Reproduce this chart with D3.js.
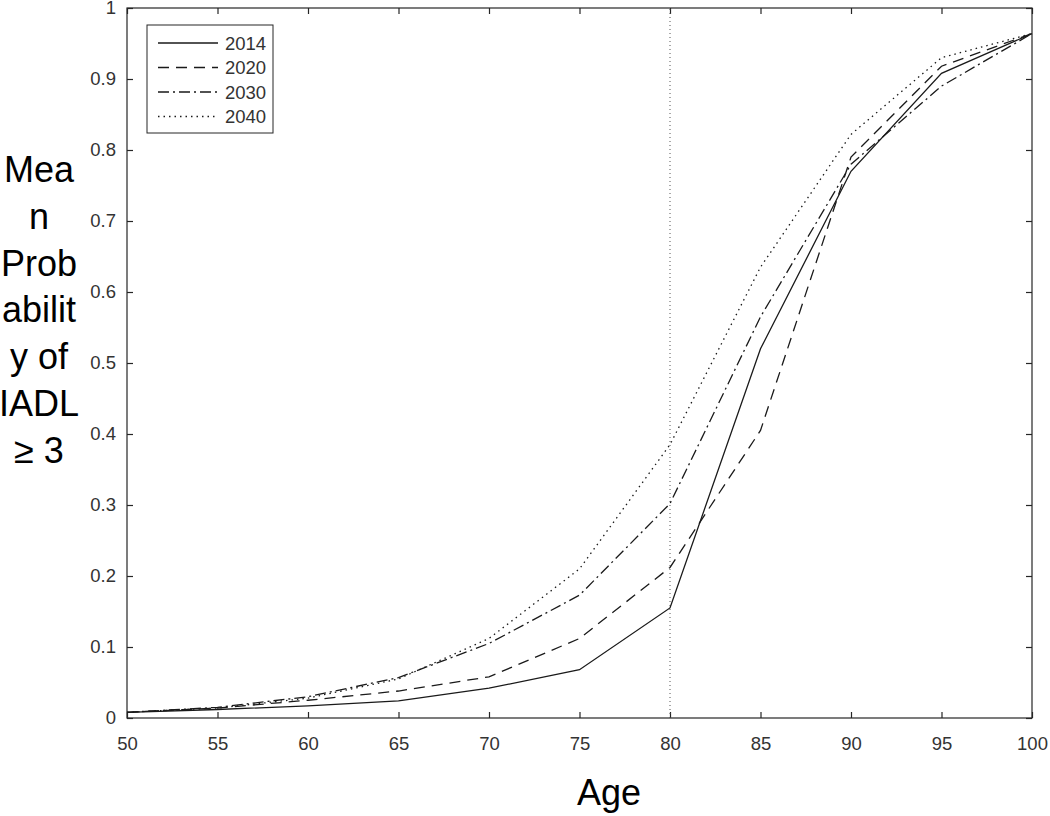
<!DOCTYPE html>
<html>
<head>
<meta charset="utf-8">
<script src="https://cdn.jsdelivr.net/npm/d3@7"></script>
<style>
  body { margin: 0; background: #fff; }
  text { font-family: "Liberation Sans", Arial, sans-serif; }
</style>
</head>
<body>
<svg id="chart" width="1050" height="816"></svg>
<script>
// ages on the x axis
const ages = [50, 55, 60, 65, 70, 75, 80, 85, 90, 95, 100];
// mean probability of IADL >= 3 per year
const p2014 = [0.008, 0.012, 0.017, 0.024, 0.042, 0.068, 0.155, 0.520, 0.770, 0.908, 0.964];
const p2020 = [0.008, 0.014, 0.025, 0.038, 0.058, 0.112, 0.212, 0.405, 0.790, 0.918, 0.964];
const p2030 = [0.008, 0.015, 0.030, 0.057, 0.105, 0.173, 0.302, 0.565, 0.780, 0.890, 0.964];
const p2040 = [0.008, 0.014, 0.028, 0.055, 0.112, 0.210, 0.385, 0.635, 0.822, 0.930, 0.964];
const seriesNames = ["2014", "2020", "2030", "2040"];
const xTicks = [50, 55, 60, 65, 70, 75, 80, 85, 90, 95, 100];
const yTicks = [0, 0.1, 0.2, 0.3, 0.4, 0.5, 0.6, 0.7, 0.8, 0.9, 1];
const yLabelLines = ["Mea", "n", "Prob", "abilit", "y of", "IADL", "\u2265 3"];
const refAge = 80;

const svg = d3.select("#chart");
const plotLeft = 127, plotRight = 1032, plotTop = 8, plotBottom = 718;
const axisColor = "#262626";
const tickFont = "18.5px";

const x = d3.scaleLinear().domain([50, 100]).range([plotLeft, plotRight]);
const y = d3.scaleLinear().domain([0, 1]).range([plotBottom, plotTop]);

const series = [
    {name: seriesNames[0], values: p2014, dash: null},
    {name: seriesNames[1], values: p2020, dash: "11,7"},
    {name: seriesNames[2], values: p2030, dash: "11,4,2,4"},
    {name: seriesNames[3], values: p2040, dash: "1.5,4"}
];

// box with inward ticks, like matlab
const tickLen = 6;
svg.append("rect")
    .attr("x", plotLeft).attr("y", plotTop)
    .attr("width", plotRight - plotLeft).attr("height", plotBottom - plotTop)
    .attr("fill", "none").attr("stroke", axisColor).attr("stroke-width", 1.2);

const gx = svg.append("g").attr("transform", `translate(0,${plotBottom})`)
    .call(d3.axisBottom(x).tickValues(xTicks).tickSize(-tickLen).tickPadding(19).tickFormat(d3.format("d")));
const gxTop = svg.append("g").attr("transform", `translate(0,${plotTop})`)
    .call(d3.axisTop(x).tickValues(xTicks).tickSize(-tickLen).tickFormat(""));
const gy = svg.append("g").attr("transform", `translate(${plotLeft},0)`)
    .call(d3.axisLeft(y).tickValues(yTicks).tickSize(-tickLen).tickPadding(11).tickFormat(d => d === 0 || d === 1 ? d : d.toFixed(1)));
const gyRight = svg.append("g").attr("transform", `translate(${plotRight},0)`)
    .call(d3.axisRight(y).tickValues(yTicks).tickSize(-tickLen).tickFormat(""));

[gx, gxTop, gy, gyRight].forEach(g => {
    g.select(".domain").remove();
    g.selectAll(".tick line").attr("stroke", axisColor).attr("stroke-width", 1.2);
    g.selectAll(".tick text").attr("fill", "#333").style("font-size", tickFont);
});

// reference line at age 80
svg.append("line")
    .attr("x1", x(refAge)).attr("x2", x(refAge))
    .attr("y1", y(0)).attr("y2", y(1))
    .attr("stroke", "#555").attr("stroke-width", 1)
    .attr("stroke-dasharray", "1,3");

const line = d3.line().x((d, i) => x(ages[i])).y(d => y(d));

svg.selectAll(".series")
    .data(series)
    .enter()
    .append("path")
    .attr("class", "series")
    .attr("d", d => line(d.values))
    .attr("fill", "none")
    .attr("stroke", "#1a1a1a")
    .attr("stroke-width", 1.3)
    .attr("stroke-dasharray", d => d.dash);

// legend
const legend = svg.append("g").attr("transform", "translate(147,25)");
legend.append("rect")
    .attr("width", 126).attr("height", 108)
    .attr("fill", "#fff").attr("stroke", axisColor).attr("stroke-width", 1);
const item = legend.selectAll(".item")
    .data(series)
    .enter()
    .append("g")
    .attr("class", "item")
    .attr("transform", (d, i) => `translate(0,${18 + i * 24.5})`);
item.append("line")
    .attr("x1", 11).attr("x2", 71)
    .attr("stroke", "#1a1a1a").attr("stroke-width", 1.3)
    .attr("stroke-dasharray", d => d.dash);
item.append("text")
    .attr("x", 78).attr("dy", "0.36em")
    .attr("fill", "#333")
    .style("font-size", tickFont)
    .text(d => d.name);

// axis labels
svg.append("text")
    .attr("x", 609).attr("y", 805)
    .attr("text-anchor", "middle")
    .style("font-size", "36px")
    .text("Age");

svg.append("text")
    .attr("text-anchor", "middle")
    .style("font-size", "36px")
    .selectAll("tspan")
    .data(yLabelLines)
    .enter()
    .append("tspan")
    .attr("x", 39)
    .attr("y", (d, i) => 182 + i * 46.8)
    .text(d => d);
</script>
</body>
</html>
